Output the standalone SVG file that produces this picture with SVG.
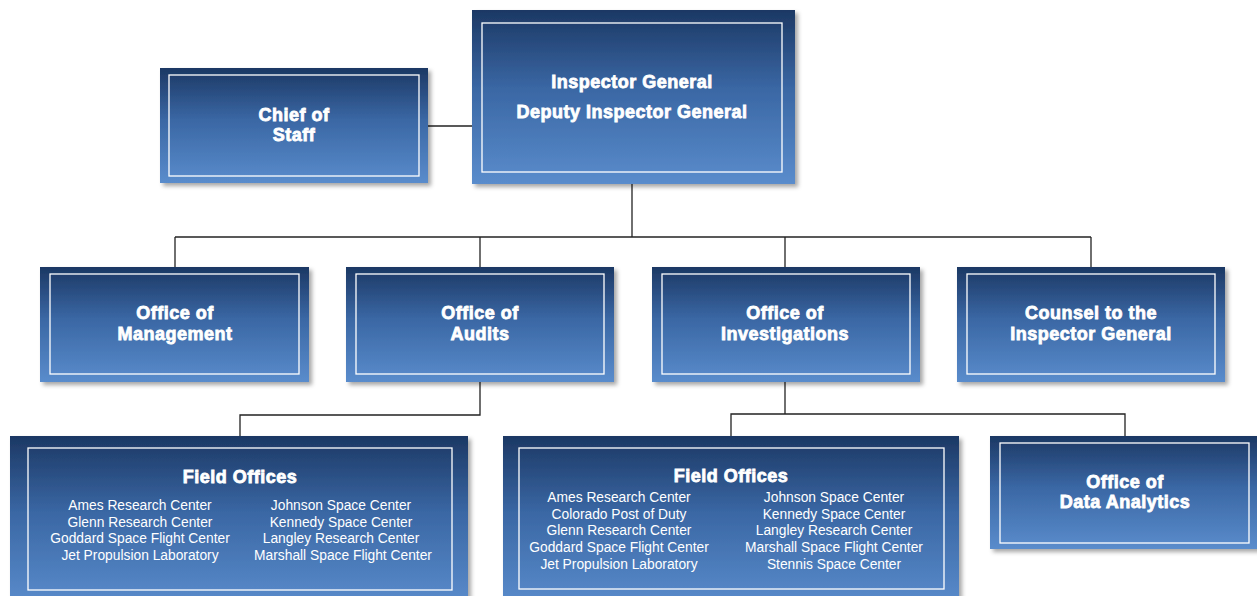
<svg xmlns="http://www.w3.org/2000/svg" width="1257" height="596" viewBox="0 0 1257 596">
  <defs>
    <linearGradient id="boxFill" x1="0" y1="0" x2="0" y2="1">
      <stop offset="0" stop-color="#1c3864"/>
      <stop offset="0.45" stop-color="#3a67a4"/>
      <stop offset="1" stop-color="#5a8ccc"/>
    </linearGradient>
    <filter id="shadow" x="-5%" y="-5%" width="115%" height="120%">
      <feDropShadow dx="3" dy="3" stdDeviation="2" flood-color="#000" flood-opacity="0.35"/>
    </filter>
    <style>
      .outer { fill: url(#boxFill); filter: url(#shadow); }
      .inner { fill: none; stroke: #ffffff; stroke-width: 1.3; }
      .title { font-family: "Liberation Sans", Arial, sans-serif; font-weight: bold; font-size: 18px; letter-spacing: 0.5px; fill: #ffffff; text-anchor: middle; stroke: #ffffff; stroke-width: 0.8; }
      .item { font-family: "Liberation Sans", Arial, sans-serif; font-size: 13.8px; fill: #ffffff; text-anchor: middle; }
      .conn { fill: none; stroke: #222; stroke-width: 1.3; }
    </style>
  </defs>
  <rect width="1257" height="596" fill="#ffffff"/>

  <!-- connectors -->
  <g id="connectors" class="conn">
    <line x1="428" y1="126" x2="472" y2="126"/>
    <polyline points="632,184 632,237"/>
    <line x1="175" y1="237" x2="1091" y2="237"/>
    <line x1="175" y1="237" x2="175" y2="267"/>
    <line x1="480" y1="237" x2="480" y2="267"/>
    <line x1="785" y1="237" x2="785" y2="267"/>
    <line x1="1091" y1="237" x2="1091" y2="267"/>
    <polyline points="480,382 480,415 240,415 240,436"/>
    <polyline points="785,382 785,414"/>
    <polyline points="731,436 731,414 1125,414 1125,436"/>
  </g>

  <g id="inspector-general">
    <rect class="outer" x="472" y="10" width="323" height="174"/>
    <rect class="inner" x="482" y="23" width="300" height="149"/>
    <text class="title" x="632" y="88">Inspector General</text>
    <text class="title" x="632" y="118">Deputy Inspector General</text>
  </g>

  <g id="chief-of-staff">
    <rect class="outer" x="160" y="68" width="268" height="115"/>
    <rect class="inner" x="169" y="75" width="250" height="101"/>
    <text class="title" x="294" y="121">Chief of</text>
    <text class="title" x="294" y="141">Staff</text>
  </g>

  <g id="office-of-management">
    <rect class="outer" x="40" y="267" width="269" height="115"/>
    <rect class="inner" x="50" y="274" width="249" height="100"/>
    <text class="title" x="175" y="319">Office of</text>
    <text class="title" x="175" y="340">Management</text>
  </g>

  <g id="office-of-audits">
    <rect class="outer" x="346" y="267" width="268" height="115"/>
    <rect class="inner" x="356" y="274" width="248" height="100"/>
    <text class="title" x="480" y="319">Office of</text>
    <text class="title" x="480" y="340">Audits</text>
  </g>

  <g id="office-of-investigations">
    <rect class="outer" x="652" y="267" width="268" height="115"/>
    <rect class="inner" x="662" y="274" width="248" height="100"/>
    <text class="title" x="785" y="319">Office of</text>
    <text class="title" x="785" y="340">Investigations</text>
  </g>

  <g id="counsel">
    <rect class="outer" x="957" y="267" width="268" height="115"/>
    <rect class="inner" x="967" y="274" width="248" height="100"/>
    <text class="title" x="1091" y="319">Counsel to the</text>
    <text class="title" x="1091" y="340">Inspector General</text>
  </g>

  <g id="audits-field-offices">
    <rect class="outer" x="10" y="436" width="458" height="170"/>
    <rect class="inner" x="28" y="448" width="424" height="142"/>
    <text class="title" x="240" y="483">Field Offices</text>
    <text class="item" x="140" y="510">Ames Research Center</text>
    <text class="item" x="140" y="527">Glenn Research Center</text>
    <text class="item" x="140" y="543">Goddard Space Flight Center</text>
    <text class="item" x="140" y="560">Jet Propulsion Laboratory</text>
    <text class="item" x="341" y="510">Johnson Space Center</text>
    <text class="item" x="341" y="527">Kennedy Space Center</text>
    <text class="item" x="341" y="543">Langley Research Center</text>
    <text class="item" x="343" y="560">Marshall Space Flight Center</text>
  </g>

  <g id="investigations-field-offices">
    <rect class="outer" x="503" y="436" width="456" height="170"/>
    <rect class="inner" x="519" y="448" width="425" height="141"/>
    <text class="title" x="731" y="482">Field Offices</text>
    <text class="item" x="619" y="502">Ames Research Center</text>
    <text class="item" x="619" y="519">Colorado Post of Duty</text>
    <text class="item" x="619" y="535">Glenn Research Center</text>
    <text class="item" x="619" y="552">Goddard Space Flight Center</text>
    <text class="item" x="619" y="569">Jet Propulsion Laboratory</text>
    <text class="item" x="834" y="502">Johnson Space Center</text>
    <text class="item" x="834" y="519">Kennedy Space Center</text>
    <text class="item" x="834" y="535">Langley Research Center</text>
    <text class="item" x="834" y="552">Marshall Space Flight Center</text>
    <text class="item" x="834" y="569">Stennis Space Center</text>
  </g>

  <g id="office-of-data-analytics">
    <rect class="outer" x="990" y="436" width="270" height="113"/>
    <rect class="inner" x="1000" y="443" width="249" height="100"/>
    <text class="title" x="1125" y="488">Office of</text>
    <text class="title" x="1125" y="508">Data Analytics</text>
  </g>
</svg>
